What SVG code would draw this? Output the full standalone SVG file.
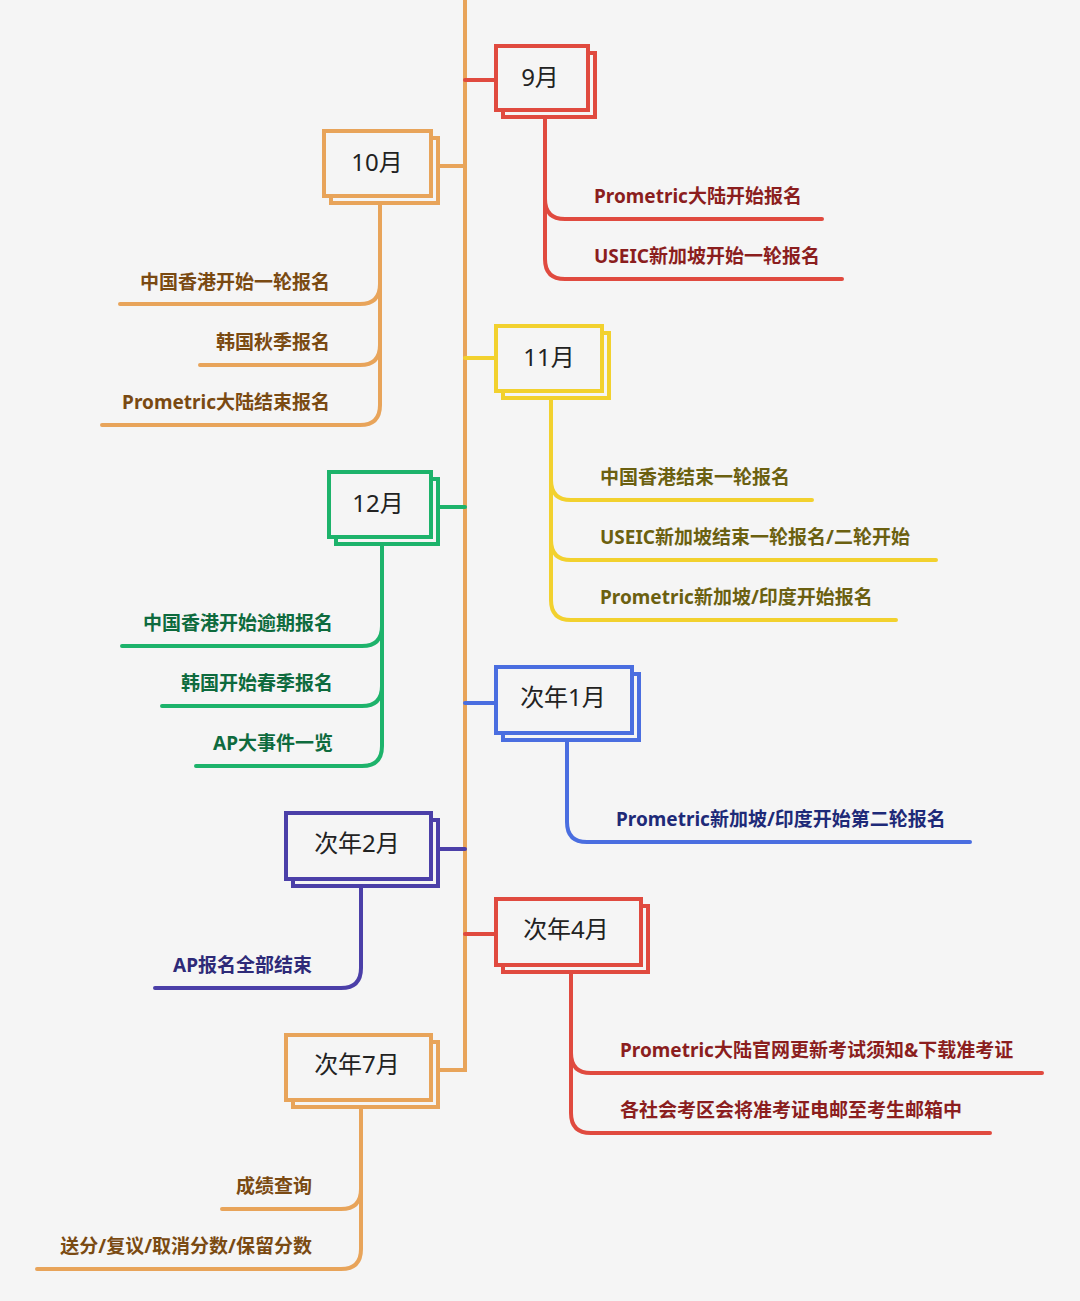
<svg xmlns="http://www.w3.org/2000/svg" width="1080" height="1301" viewBox="0 0 1080 1301">
<style>
.b{fill:#f5f5f5;stroke-width:4}
.l{fill:none;stroke-width:4;stroke-linecap:round}
.t{font-family:"Noto Sans","Noto Sans CJK SC",sans-serif;font-size:24px;fill:#222}
.s{font-family:"Noto Sans","Noto Sans CJK SC",sans-serif;font-size:19px;font-weight:bold}
.e{text-anchor:end}
</style>
<rect width="1080" height="1301" fill="#f5f5f5"/>
<g id="connectors">
<path class="l" stroke="#E8A45A" d="M465,0 V1070 H438"/>
<path class="l" stroke="#E04A3F" d="M465,80 H496"/>
<path class="l" stroke="#E8A45A" d="M438,166 H465"/>
<path class="l" stroke="#F2D12E" d="M465,358 H496"/>
<path class="l" stroke="#1DB36B" d="M438,507 H465"/>
<path class="l" stroke="#4A6EE0" d="M465,703 H496"/>
<path class="l" stroke="#4B3FA8" d="M438,849 H465"/>
<path class="l" stroke="#E04A3F" d="M465,934 H496"/>
<path class="l" stroke="#E04A3F" d="M545,117 V199 Q545,219 565,219 H822 M545,199 V259 Q545,279 565,279 H842"/>
<path class="l" stroke="#E8A45A" d="M380,203 V284 Q380,304 360,304 H120 M380,284 V345 Q380,365 360,365 H200 M380,345 V405 Q380,425 360,425 H102"/>
<path class="l" stroke="#F2D12E" d="M551,398 V480 Q551,500 571,500 H812 M551,480 V540 Q551,560 571,560 H936 M551,540 V600 Q551,620 571,620 H896"/>
<path class="l" stroke="#1DB36B" d="M382,544 V626 Q382,646 362,646 H122 M382,626 V686 Q382,706 362,706 H162 M382,686 V746 Q382,766 362,766 H196"/>
<path class="l" stroke="#4A6EE0" d="M567,740 V822 Q567,842 587,842 H970"/>
<path class="l" stroke="#4B3FA8" d="M361,886 V968 Q361,988 341,988 H155"/>
<path class="l" stroke="#E04A3F" d="M571,972 V1053 Q571,1073 591,1073 H1042 M571,1053 V1113 Q571,1133 591,1133 H990"/>
<path class="l" stroke="#E8A45A" d="M361,1107 V1189 Q361,1209 341,1209 H222 M361,1189 V1249 Q361,1269 341,1269 H37"/>
</g>
<g id="n9" stroke="#E04A3F"><rect class="b" x="503" y="53" width="92" height="64"/><rect class="b" x="496" y="46" width="92" height="64"/><text class="t" x="540" y="86" text-anchor="middle" stroke="none">9月</text>
<text class="s" x="594" y="203" fill="#8B1E1E" stroke="none">Prometric大陆开始报名</text><text class="s" x="594" y="263" fill="#8B1E1E" stroke="none">USEIC新加坡开始一轮报名</text></g>
<g id="n10" stroke="#E8A45A"><rect class="b" x="331" y="138" width="107" height="65"/><rect class="b" x="324" y="131" width="107" height="65"/><text class="t" x="377" y="171" text-anchor="middle" stroke="none">10月</text>
<text class="s e" x="330" y="289" fill="#7A4A12" stroke="none">中国香港开始一轮报名</text><text class="s e" x="330" y="349" fill="#7A4A12" stroke="none">韩国秋季报名</text><text class="s e" x="330" y="409" fill="#7A4A12" stroke="none">Prometric大陆结束报名</text></g>
<g id="n11" stroke="#F2D12E"><rect class="b" x="503" y="333" width="106" height="65"/><rect class="b" x="496" y="326" width="106" height="65"/><text class="t" x="549" y="366" text-anchor="middle" stroke="none">11月</text>
<text class="s" x="600" y="484" fill="#6B6010" stroke="none">中国香港结束一轮报名</text><text class="s" x="600" y="544" fill="#6B6010" stroke="none">USEIC新加坡结束一轮报名/二轮开始</text><text class="s" x="600" y="604" fill="#6B6010" stroke="none">Prometric新加坡/印度开始报名</text></g>
<g id="n12" stroke="#1DB36B"><rect class="b" x="336" y="479" width="102" height="65"/><rect class="b" x="329" y="472" width="102" height="65"/><text class="t" x="378" y="512" text-anchor="middle" stroke="none">12月</text>
<text class="s e" x="333" y="630" fill="#0E6B3E" stroke="none">中国香港开始逾期报名</text><text class="s e" x="333" y="690" fill="#0E6B3E" stroke="none">韩国开始春季报名</text><text class="s e" x="333" y="750" fill="#0E6B3E" stroke="none">AP大事件一览</text></g>
<g id="n1" stroke="#4A6EE0"><rect class="b" x="503" y="674" width="136" height="66"/><rect class="b" x="496" y="667" width="136" height="66"/><text class="t" x="563" y="706" text-anchor="middle" stroke="none">次年1月</text>
<text class="s" x="616" y="826" fill="#1E2A78" stroke="none">Prometric新加坡/印度开始第二轮报名</text></g>
<g id="n2" stroke="#4B3FA8"><rect class="b" x="293" y="820" width="145" height="66"/><rect class="b" x="286" y="813" width="145" height="66"/><text class="t" x="357" y="852" text-anchor="middle" stroke="none">次年2月</text>
<text class="s e" x="312" y="972" fill="#2E2A78" stroke="none">AP报名全部结束</text></g>
<g id="n4" stroke="#E04A3F"><rect class="b" x="503" y="906" width="145" height="66"/><rect class="b" x="496" y="899" width="145" height="66"/><text class="t" x="566" y="938" text-anchor="middle" stroke="none">次年4月</text>
<text class="s" x="620" y="1057" fill="#8B1E1E" stroke="none">Prometric大陆官网更新考试须知&amp;下载准考证</text><text class="s" x="620" y="1117" fill="#8B1E1E" stroke="none">各社会考区会将准考证电邮至考生邮箱中</text></g>
<g id="n7" stroke="#E8A45A"><rect class="b" x="293" y="1042" width="145" height="65"/><rect class="b" x="286" y="1035" width="145" height="65"/><text class="t" x="357" y="1073" text-anchor="middle" stroke="none">次年7月</text>
<text class="s e" x="312" y="1193" fill="#7A4A12" stroke="none">成绩查询</text><text class="s e" x="312" y="1253" fill="#7A4A12" stroke="none">送分/复议/取消分数/保留分数</text></g>
</svg>
